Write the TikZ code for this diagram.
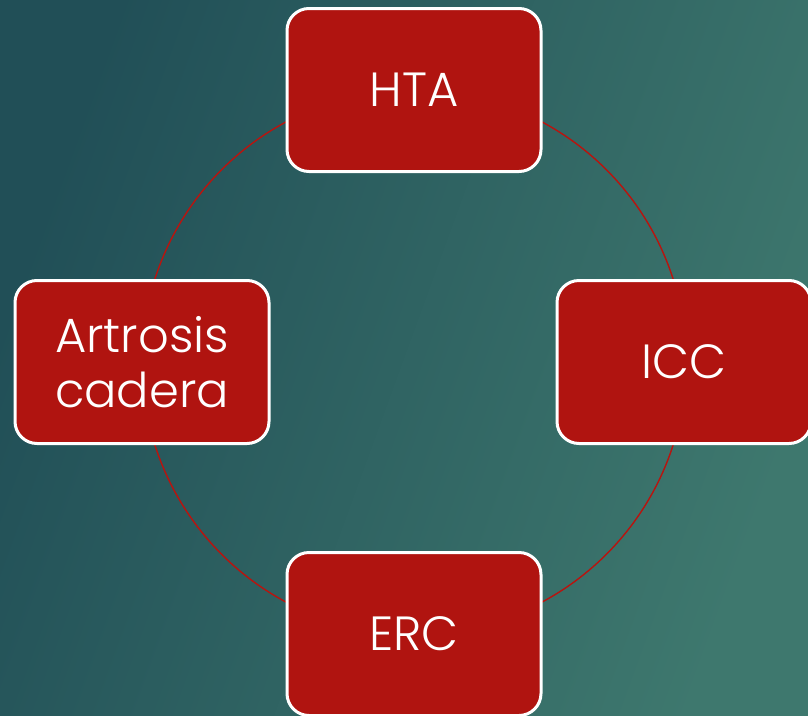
\documentclass[tikz,border=0pt]{standalone}
\usepackage{fontspec}
\setmainfont{Poppins Light}
\definecolor{boxred}{HTML}{B01410}
\definecolor{linkred}{HTML}{B8140F}
\definecolor{bgdark}{HTML}{214F57}
\definecolor{bglight}{HTML}{3E786E}
\begin{document}
\begin{tikzpicture}[x=1pt,y=1pt,
  cbox/.style={draw=white, line width=3pt, fill=boxred, rounded corners=22pt,
    minimum width=254pt, minimum height=163pt, inner sep=0pt, outer sep=0pt,
    text=white, font=\fontsize{48}{55}\selectfont, align=center},
  link/.style={draw=linkred, line width=1.4pt}]
\useasboundingbox (0,0) rectangle (808,-715);
\shade[left color=bgdark, right color=bglight, shading angle=70] (0,0) rectangle (808,-715);
\coordinate (ctr) at (414,-362);
\draw[link] (ctr) circle[radius=272];
\node[cbox] (hta) at (414,-90) {HTA};
\node[cbox] (icc) at (684,-362) {ICC};
\node[cbox] (erc) at (414,-634) {ERC};
\node[cbox] (art) at (142,-362) {Artrosis\\cadera};
\end{tikzpicture}
\end{document}
